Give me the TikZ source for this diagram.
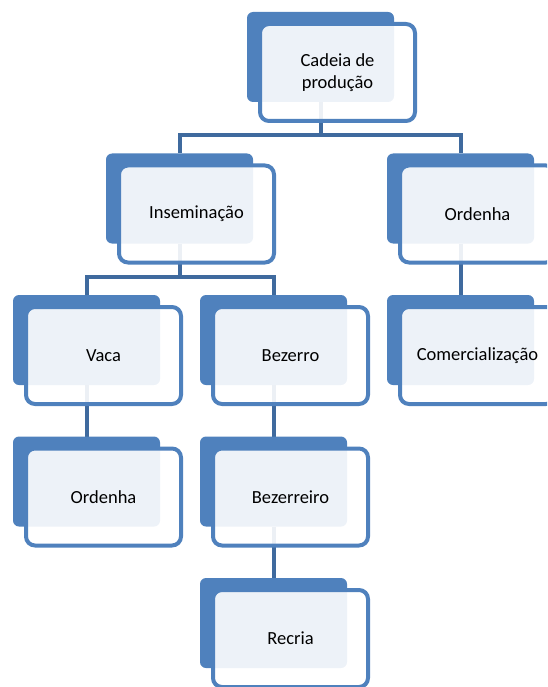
\documentclass[tikz,border=0pt]{standalone}
\usepackage{fontspec}
\setmainfont{Carlito}
\usetikzlibrary{backgrounds}
\definecolor{boxblue}{HTML}{4F81BD}
\definecolor{connblue}{HTML}{3F6A9E}
\begin{document}
\begin{tikzpicture}[x=1pt,y=-1pt,
  back/.style={fill=boxblue, rounded corners=6pt, minimum width=147pt, minimum height=90pt, inner sep=0pt, outer sep=0pt},
  front/.style={draw=boxblue, line width=4pt, fill=white, fill opacity=0.9, text opacity=1, rounded corners=9pt, minimum width=155pt, minimum height=97pt, inner sep=0pt, outer sep=0pt, font=\fontsize{18.5}{22.5}\selectfont, align=center, text=black},
  conn/.style={draw=connblue, line width=4pt}]
\useasboundingbox (0,0) rectangle (547,687);
\clip (0,0) rectangle (547,687);
% back boxes
\node[back] (d1) at (320.5,57) {};
\node[back] (d2) at (179.5,198.5) {};
\node[back] (d3) at (460.5,198.5) {};
\node[back] (d4) at (86.5,340) {};
\node[back] (d5) at (273.5,340) {};
\node[back] (d6) at (460.5,340) {};
\node[back] (d7) at (86.5,481.5) {};
\node[back] (d8) at (273.5,481.5) {};
\node[back] (d9) at (273.5,623) {};
% connectors
\begin{pgfonlayer}{background}
\draw[conn] (d1.south) -- ++(0,33) -| (d2.north);
\draw[conn] (d1.south) -- ++(0,33) -| (d3.north);
\draw[conn] (d2.south) -- ++(0,33) -| (d4.north);
\draw[conn] (d2.south) -- ++(0,33) -| (d5.north);
\draw[conn] (d3.south) -- (d6.north);
\draw[conn] (d4.south) -- (d7.north);
\draw[conn] (d5.south) -- (d8.north);
\draw[conn] (d8.south) -- (d9.north);
\end{pgfonlayer}
% front frames
\node[front] (f1) at ([shift={(17,15.5)}]d1.center) {Cadeia de\\produção};
\node[front] (f2) at ([shift={(17,15.5)}]d2.center) {Inseminação};
\node[front] (f3) at ([shift={(17,15.5)}]d3.center) {Ordenha};
\node[front] (f4) at ([shift={(17,15.5)}]d4.center) {Vaca};
\node[front] (f5) at ([shift={(17,15.5)}]d5.center) {Bezerro};
\node[front] (f6) at ([shift={(17,15.5)}]d6.center) {Comercialização};
\node[front] (f7) at ([shift={(17,15.5)}]d7.center) {Ordenha};
\node[front] (f8) at ([shift={(17,15.5)}]d8.center) {Bezerreiro};
\node[front] (f9) at ([shift={(17,15.5)}]d9.center) {Recria};
\end{tikzpicture}
\end{document}
